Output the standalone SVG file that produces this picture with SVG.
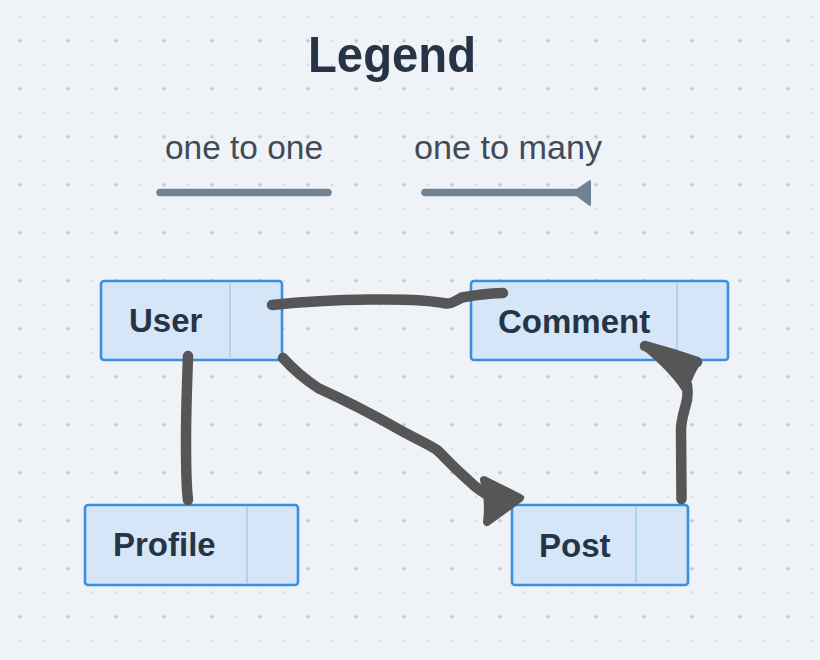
<svg xmlns="http://www.w3.org/2000/svg" width="820" height="660" viewBox="0 0 820 660">
<defs>
<pattern id="grid" x="8" y="4.7" width="48" height="48" patternUnits="userSpaceOnUse">
<circle cx="12" cy="12" r="1.2" fill="#d3d8de"/>
<circle cx="36" cy="12" r="1.2" fill="#d3d8de"/>
<circle cx="12" cy="36" r="1.8" fill="#c3c7cc"/>
<circle cx="36" cy="36" r="1.2" fill="#d3d8de"/>
</pattern>
<style>
.box{fill:#d4e6f7;stroke:#3a8fe0;stroke-width:2.6}
.div{stroke:#a8cdef;stroke-width:1.6}
.lbl{font-family:"Liberation Sans",Arial,sans-serif;font-weight:bold;font-size:33px;fill:#263445}
.leg{font-family:"Liberation Sans",Arial,sans-serif;font-size:33px;fill:#3f4b59}
.edge{fill:none;stroke:#565656;stroke-width:10.5;stroke-linecap:round;stroke-linejoin:round}
.head{fill:#565656;stroke:#565656;stroke-width:8;stroke-linejoin:round}
.lg{stroke:#718292;stroke-width:7.5;stroke-linecap:round;fill:none}
</style>
</defs>
<rect width="820" height="660" fill="#eff2f6"/>
<rect width="820" height="660" fill="url(#grid)"/>

<g id="legend">
<text x="392" y="71.5" text-anchor="middle" font-family="Liberation Sans, Arial, sans-serif" font-weight="bold" font-size="50" fill="#263445" textLength="168" lengthAdjust="spacingAndGlyphs">Legend</text>
<text class="leg" x="244" y="159" text-anchor="middle" textLength="158" lengthAdjust="spacingAndGlyphs">one to one</text>
<text class="leg" x="508" y="159" text-anchor="middle" textLength="188" lengthAdjust="spacingAndGlyphs">one to many</text>
<line class="lg" x1="160" y1="192.5" x2="328" y2="192.5"/>
<line class="lg" x1="425" y1="192.5" x2="578" y2="192.5"/>
<path d="M573 192.5 L590 181 L590 205 Z" fill="#718292" stroke="#718292" stroke-width="2" stroke-linejoin="round"/>
</g>

<g id="node-user">
<rect class="box" x="101" y="281" width="181" height="79" rx="3"/>
<line class="div" x1="230" y1="283" x2="230" y2="358"/>
<text class="lbl" x="129" y="332">User</text>
</g>
<g id="node-comment">
<rect class="box" x="471" y="281" width="257" height="79" rx="3"/>
<line class="div" x1="677" y1="283" x2="677" y2="358"/>
<text class="lbl" x="498" y="332.5">Comment</text>
</g>
<g id="node-profile">
<rect class="box" x="85" y="505" width="213" height="80" rx="3"/>
<line class="div" x1="247" y1="507" x2="247" y2="583"/>
<text class="lbl" x="113" y="556">Profile</text>
</g>
<g id="node-post">
<rect class="box" x="512" y="505" width="176" height="80" rx="3"/>
<line class="div" x1="636" y1="507" x2="636" y2="583"/>
<text class="lbl" x="539" y="556.5">Post</text>
</g>

<g id="connectors">
<path class="edge" d="M272 305 C300 302 330 300 370 299.5 C405 299 430 300 446 303.5 C452 304 455 301 462 297.5 C475 295 490 293.5 503 293"/>
<path class="edge" d="M283 358 C292 368 300 376 318 388 C340 398 365 410 400 430 C418 440 430 445 437 450 C443 455 448 462 468 480 C476 488 484 494 496 499"/>
<path class="head" d="M484 480 L520 498 L487 522 C489 508 488 495 484 480 Z"/>
<path class="edge" d="M188 356 C187 385 186 410 186 440 C186 465 186 485 188 500"/>
<path class="edge" d="M681.5 499 C681.5 470 681 450 681 430 C681 420 684 412 686 404 C688 397 688 392 687 385"/>
<path class="head" d="M646 347 C662 351 682 356 697 362 C692 370 688 378 685 388 C676 374 664 362 646 347 Z"/>
<path class="head" d="M660 355 L695 362 L684 385 Z"/>
<path class="edge" d="M645 346 C660 350 680 356 697 362"/>
</g>
</svg>
